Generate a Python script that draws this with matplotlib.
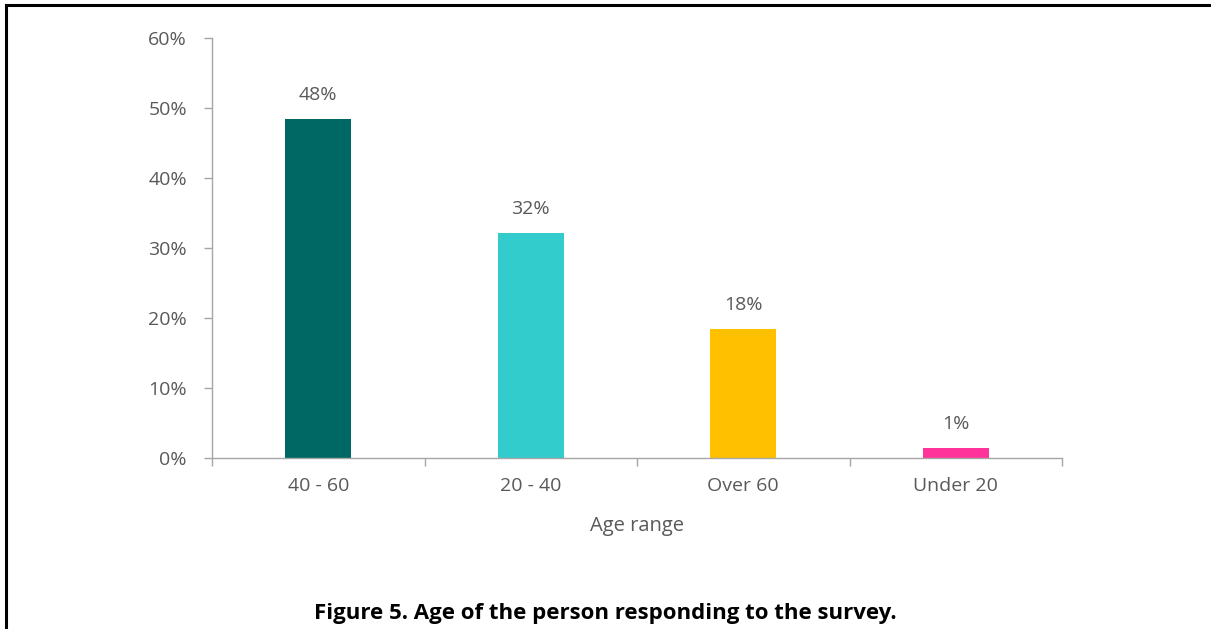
import matplotlib.pyplot as plt
from matplotlib.lines import Line2D
from matplotlib.ticker import FixedLocator, PercentFormatter

# Survey responses by age group
age_groups = ['40 - 60', '20 - 40', 'Over 60', 'Under 20']
share_pct = [48.4, 32.1, 18.4, 1.4]
bar_colors = ['#006864', '#33CCCC', '#FFC000', '#FF3399']
y_ticks = [0, 10, 20, 30, 40, 50, 60]

plt.rcParams['font.family'] = ['Open Sans', 'DejaVu Sans']
FS = 14
GREY_TXT = '#595959'

W, H = 1211, 629
fig = plt.figure(figsize=(W / 100, H / 100), dpi=100)
ax = fig.add_axes([212 / W, 1 - 458 / H, 850 / W, 420 / H])

x = list(range(len(age_groups)))
bars = ax.bar(x, share_pct, width=0.31, color=bar_colors)

for b, v in zip(bars, share_pct):
    ax.annotate(f'{v:.0f}%', (b.get_x() + b.get_width() / 2, v),
                xytext=(0, 11), textcoords='offset points',
                ha='center', va='bottom', fontsize=FS, color=GREY_TXT)

ax.set_xlim(-0.5, len(age_groups) - 0.5)
ax.set_ylim(0, 60)
ax.set_yticks(y_ticks)
ax.yaxis.set_major_formatter(PercentFormatter(decimals=0))

ax.set_xticks(x)
ax.set_xticklabels(age_groups)
ax.xaxis.set_minor_locator(FixedLocator([i - 0.5 for i in range(len(age_groups) + 1)]))
ax.tick_params(axis='x', which='major', length=0, pad=14, labelsize=FS, labelcolor=GREY_TXT)
ax.tick_params(axis='x', which='minor', length=6, width=1, color='#a6a6a6', direction='out')
ax.tick_params(axis='y', length=6, width=1, color='#a6a6a6', pad=12, labelsize=FS, labelcolor=GREY_TXT)

for side in ('top', 'right'):
    ax.spines[side].set_visible(False)
for side in ('left', 'bottom'):
    ax.spines[side].set_color('#a6a6a6')
    ax.spines[side].set_linewidth(1)

ax.set_xlabel('Age range', fontsize=14.5, color=GREY_TXT, labelpad=15)

fig.text(0.5, 1 - 613 / H, 'Figure 5. Age of the person responding to the survey.',
         ha='center', va='center', fontsize=16, fontweight='bold', color='black')

# page border: top and left edges
fig.add_artist(Line2D([6 / W, 1.0], [1 - 5 / H, 1 - 5 / H], color='black', lw=2.2))
fig.add_artist(Line2D([6 / W, 6 / W], [0.0, 1 - 5 / H], color='black', lw=2.2))

fig.savefig('out.png', dpi=100)
